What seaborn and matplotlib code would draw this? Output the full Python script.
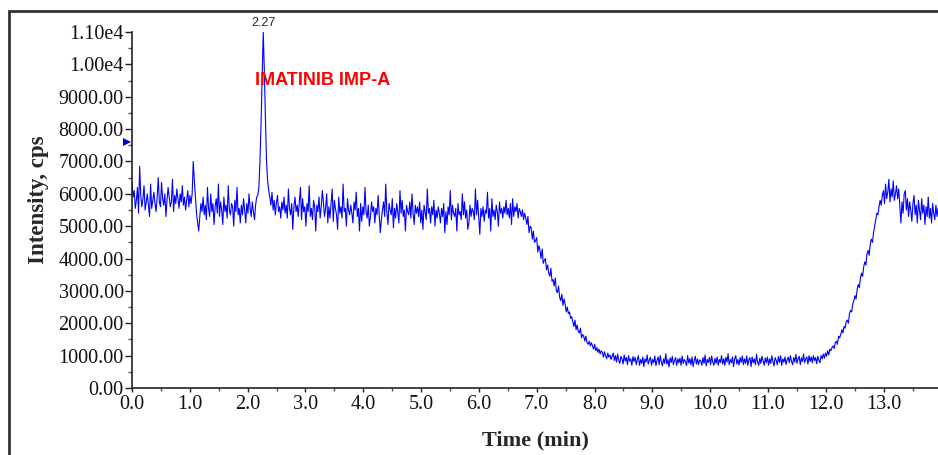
import numpy as np
import pandas as pd
import matplotlib
matplotlib.use("Agg")
import matplotlib.pyplot as plt
from matplotlib.ticker import MultipleLocator, FuncFormatter
from matplotlib.patches import Rectangle
import seaborn as sns

# Acquisition: one scan every 2.27/120 min
scan_interval = 2.27 / 120

# Extracted ion chromatogram intensities (cps), one value per scan
intensity = [
    6350, 5900, 6100, 5550, 5800, 6200, 5400, 6850, 5950, 5600, 5850, 6250, 5500, 5750, 6000, 5650, 5300, 6300, 5550, 5800,
    6050, 5700, 5450, 5900, 6500, 5750, 5600, 6350, 5850, 5650, 6000, 5300, 5800, 6200, 5900, 5600, 5750, 6450, 5450, 5950,
    5700, 6150, 5850, 5550, 6000, 5750, 6250, 5650, 5900, 5500, 5800, 6100, 5600, 5950, 5700, 6000, 7000, 6400, 5900, 5400,
    5100, 4850, 5300, 5700, 5450, 5900, 5350, 5650, 5200, 6200, 5550, 5300, 6000, 5450, 5700, 5050, 5600, 5850, 5400, 6300,
    5300, 5750, 5500, 5050, 5900, 5450, 5650, 5250, 6250, 5500, 5350, 5700, 5600, 5000, 5800, 5450, 6200, 5350, 5550, 5100,
    5650, 5350, 5850, 5500, 5100, 5700, 5400, 6000, 5550, 5300, 5750, 5450, 5200, 5650, 5900, 5950, 6200, 7000, 8200, 9600,
    11000, 9800, 8300, 7000, 6400, 6100, 5900, 5650, 6050, 5500, 5800, 5350, 5700, 5950, 5450, 5600, 5250, 5750, 5500, 5900,
    5400, 5650, 5250, 6150, 5550, 5350, 5700, 4900, 5600, 5900, 5450, 5650, 5300, 5750, 6200, 5200, 5850, 5450, 5600, 5000,
    5700, 5450, 6250, 5300, 5550, 5200, 5800, 5600, 4850, 5650, 5450, 5900, 5250, 5600, 6100, 5750, 5300, 5550, 6000, 5100,
    5600, 5250, 5700, 6150, 5150, 5800, 5550, 5350, 4900, 5900, 5400, 5600, 5250, 6300, 5450, 5550, 5000, 5850, 5500, 5350,
    5650, 5400, 5100, 5750, 5500, 6050, 5300, 5550, 4850, 5700, 5150, 5600, 5350, 6200, 5450, 5250, 5650, 5000, 5300, 5750,
    5450, 5600, 5100, 5550, 5350, 5950, 5400, 4800, 5200, 5500, 5750, 5300, 6300, 5450, 5050, 5700, 5500, 5350, 5850, 4950,
    5550, 5250, 5700, 5450, 5100, 6100, 5400, 5800, 5300, 5500, 4850, 5650, 5450, 5350, 5750, 5250, 6000, 5400, 5050, 5650,
    5400, 5600, 5300, 5750, 5100, 5500, 4900, 5650, 5450, 5200, 6150, 5400, 5550, 5100, 5600, 5350, 5800, 5000, 5500, 5250,
    5600, 5400, 5100, 5550, 5300, 5700, 4800, 5450, 5050, 5600, 5350, 6100, 5200, 5650, 5400, 5300, 5550, 4850, 5700, 5350,
    5450, 5200, 6000, 5350, 5750, 5250, 5500, 4900, 5100, 5650, 5300, 5550, 5450, 5200, 6150, 5350, 5800, 5250, 4750, 5550,
    5300, 5600, 5150, 5500, 5400, 6050, 5250, 5550, 4850, 5850, 5300, 5500, 5200, 5650, 5450, 5000, 5750, 5400, 5550, 5250,
    5600, 5400, 5800, 5350, 5550, 5250, 5700, 5050, 5850, 5300, 5600, 5450, 5700, 5250, 5550, 5450, 5300, 5500, 5200, 5400,
    5250, 5050, 5300, 4800, 5000, 4950, 4600, 4850, 4500, 4550, 4650, 4200, 4400, 4250, 4000, 4300, 3850, 3950, 4000, 3650,
    3800, 3550, 3450, 3700, 3300, 3350, 3150, 3400, 3000, 2950, 3150, 2800, 2700, 2900, 2550, 2750, 2600, 2350, 2500, 2300,
    2350, 2150, 2200, 2050, 1900, 2100, 1800, 1950, 1750, 1700, 1850, 1550, 1650, 1600, 1450, 1600, 1400, 1350, 1450, 1300,
    1400, 1300, 1200, 1350, 1150, 1250, 1100, 1200, 1050, 1150, 1100, 950, 1120, 1000, 900, 1080, 950, 1020, 880, 980,
    1080, 850, 1000, 800, 1050, 860, 760, 980, 900, 740, 1020, 830, 940, 720, 1000, 830, 900, 700, 970, 820,
    950, 720, 870, 1000, 700, 880, 760, 960, 660, 900, 800, 1020, 740, 860, 950, 700, 880, 780, 990, 690,
    850, 960, 720, 1000, 800, 680, 900, 760, 1060, 740, 880, 650, 930, 790, 980, 720, 850, 940, 700, 900,
    780, 930, 700, 990, 760, 880, 820, 690, 1000, 770, 910, 720, 960, 660, 850, 980, 740, 900, 720, 870,
    840, 700, 940, 760, 1020, 680, 880, 790, 950, 720, 990, 800, 700, 920, 760, 960, 700, 880, 790, 1000,
    740, 900, 700, 950, 800, 1060, 720, 880, 780, 960, 660, 900, 1000, 740, 880, 710, 940, 790, 990, 720,
    900, 760, 990, 700, 880, 940, 660, 960, 780, 900, 720, 1040, 800, 700, 920, 760, 980, 840, 700, 930,
    780, 960, 710, 900, 760, 1000, 820, 680, 940, 850, 720, 970, 790, 1000, 700, 900, 800, 960, 730, 880,
    950, 780, 1000, 820, 720, 940, 800, 1040, 760, 900, 980, 720, 930, 820, 1050, 780, 900, 960, 740, 1000,
    820, 960, 780, 1000, 850, 940, 750, 980, 860, 780, 1000, 900, 1050, 920, 1080, 980, 1150, 1020, 1200, 1150,
    1250, 1300, 1220, 1400, 1450, 1350, 1600, 1550, 1650, 1800, 1700, 1900, 1850, 2050, 2100, 2000, 2300, 2400, 2350, 2600,
    2700, 2850, 2750, 3050, 3200, 3100, 3400, 3550, 3450, 3750, 3900, 3800, 4150, 4250, 4100, 4450, 4600, 4500, 4800, 5000,
    5200, 5400, 5350, 5600, 5800, 5650, 5950, 6100, 5700, 6300, 5850, 6050, 6450, 5750, 6150, 5900, 6400, 5800, 6000, 6250,
    5850, 6150, 5600, 5100, 5750, 5400, 6000, 6100, 5500, 5850, 5300, 5750, 5500, 5150, 5700, 5950, 5350, 5650, 5100, 5800,
    5500, 5200, 5850, 5400, 5650, 5050, 5600, 5300, 5900, 5250, 5550, 5100, 5700, 5400, 5200, 5650, 5300, 5550,
]

peak_rt = 2.27
peak_label = "IMATINIB IMP-A"
threshold_level = 7600

time_min = np.arange(len(intensity)) * scan_interval
df = pd.DataFrame({"Time (min)": time_min, "Intensity, cps": intensity})

sns.set_style("ticks")
plt.rcParams["font.family"] = ["Liberation Serif", "DejaVu Serif"]

fig = plt.figure(figsize=(9.38, 4.55), dpi=100)
ax = fig.add_axes([132 / 938, 1 - 388 / 455, 1 - 132 / 938, (388 - 32) / 455])

sns.lineplot(data=df, x="Time (min)", y="Intensity, cps", ax=ax,
             color="#0000ff", linewidth=0.8)

ax.set_xlim(0, 13.94)
ax.set_ylim(0, 11000)

ax.xaxis.set_major_locator(MultipleLocator(1.0))
ax.xaxis.set_minor_locator(MultipleLocator(0.5))
ax.yaxis.set_major_locator(MultipleLocator(1000))
ax.yaxis.set_minor_locator(MultipleLocator(500))
ax.xaxis.set_major_formatter(FuncFormatter(lambda v, p: f"{v:.1f}"))


def ylab(v, p):
    if v >= 10000:
        return f"{v / 1e4:.2f}e4"
    return f"{v:.2f}"


ax.yaxis.set_major_formatter(FuncFormatter(ylab))

ax.tick_params(axis="both", which="major", direction="out", labelsize=14.5,
               colors="#222222", labelcolor="#111111", width=1.0)
ax.tick_params(axis="x", which="major", length=3, pad=2)
ax.tick_params(axis="x", which="minor", length=2, width=1.0, colors="#555555")
ax.tick_params(axis="y", which="major", length=5, pad=1)
ax.tick_params(axis="y", which="minor", length=3, width=1.0, colors="#555555")

for side in ("top", "right"):
    ax.spines[side].set_visible(False)
for side in ("left", "bottom"):
    ax.spines[side].set_color("#222222")
    ax.spines[side].set_linewidth(1.2)

ax.set_xlabel("Time (min)", fontsize=16, fontweight="bold", labelpad=12)
ax.set_ylabel("Intensity, cps", fontsize=16.5, fontweight="bold", labelpad=7)
ax.yaxis.label.set_y(0.528)

# Retention time and compound labels for the impurity peak
ax.annotate(f"{peak_rt:.2f}", xy=(peak_rt, 11000), xytext=(0, 2),
            textcoords="offset points", ha="center", va="bottom",
            fontsize=9, family=["Liberation Sans", "DejaVu Sans"],
            annotation_clip=False)
ax.text(peak_rt - 0.15, 9500, peak_label, color="red", fontsize=13,
        fontweight="bold", family=["Liberation Sans", "DejaVu Sans"],
        ha="left", va="center")

# Threshold marker on the intensity axis
ax.plot([0], [threshold_level], marker=">", color="#0000cc", markersize=6,
        transform=ax.get_yaxis_transform(), clip_on=False,
        markeredgewidth=0)
ax.lines[-1].set_xdata([-0.006])

# Outer panel frame
fig.patches.append(Rectangle((9 / 938, -0.05), 1.2, 1 - 11 / 455 + 0.05,
                             transform=fig.transFigure, fill=False,
                             edgecolor="#333333", linewidth=2.0))

fig.savefig("out.png", dpi=100)
